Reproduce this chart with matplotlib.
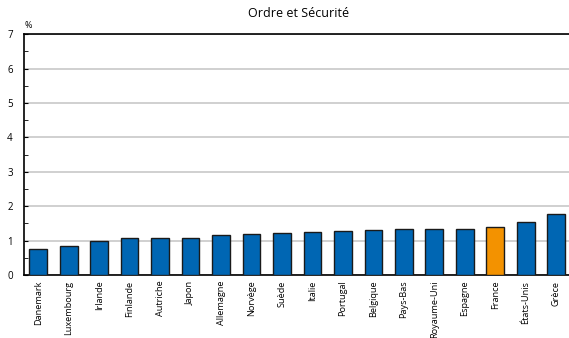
import matplotlib.pyplot as plt
from matplotlib.ticker import MultipleLocator

countries = ['Danemark', 'Luxembourg', 'Irlande', 'Finlande', 'Autriche', 'Japon',
             'Allemagne', 'Norvège', 'Suède', 'Italie', 'Portugal', 'Belgique',
             'Pays-Bas', 'Royaume-Uni', 'Espagne', 'France', 'États-Unis', 'Grèce']
values = [0.76, 0.84, 0.99, 1.07, 1.07, 1.07,
          1.18, 1.20, 1.23, 1.25, 1.27, 1.32,
          1.33, 1.34, 1.34, 1.40, 1.53, 1.78]
highlight = 'France'

plt.rcParams['font.family'] = ['Open Sans', 'DejaVu Sans']

fig = plt.figure(figsize=(5.69, 3.38), dpi=100)
ax = fig.add_axes([0.042, 0.186, 0.958, 0.713])

colors = ['#F39200' if c == highlight else '#0066B3' for c in countries]
ax.bar(range(len(countries)), values, width=0.58, color=colors,
       edgecolor='#1a1a1a', linewidth=1.0, zorder=3)

ax.set_ylim(0, 7)
ax.set_xlim(-0.47, 17.42)
ax.yaxis.set_major_locator(MultipleLocator(1))
ax.yaxis.set_minor_locator(MultipleLocator(0.5))
ax.grid(True, 'major', 'y', color='#c8c8c8', lw=1.2, zorder=0)

ax.spines['right'].set_visible(False)
for s in ['top', 'left', 'bottom']:
    ax.spines[s].set_color('black')
    ax.spines[s].set_linewidth(1.2)

ax.set_xticks(range(len(countries)))
ax.set_xticklabels(countries, rotation=90, fontsize=6.6)
ax.tick_params(axis='x', length=0, pad=4)
ax.tick_params(axis='y', which='major', labelsize=7, length=3, direction='in', pad=8)
ax.tick_params(axis='y', which='minor', length=3, direction='in')

ax.text(-0.45, 7.12, '%', fontsize=6.5, ha='left', va='bottom')
fig.text(0.524, 0.96, 'Ordre et Sécurité', fontsize=9, ha='center', va='center')

plt.savefig('out.png', dpi=100)
